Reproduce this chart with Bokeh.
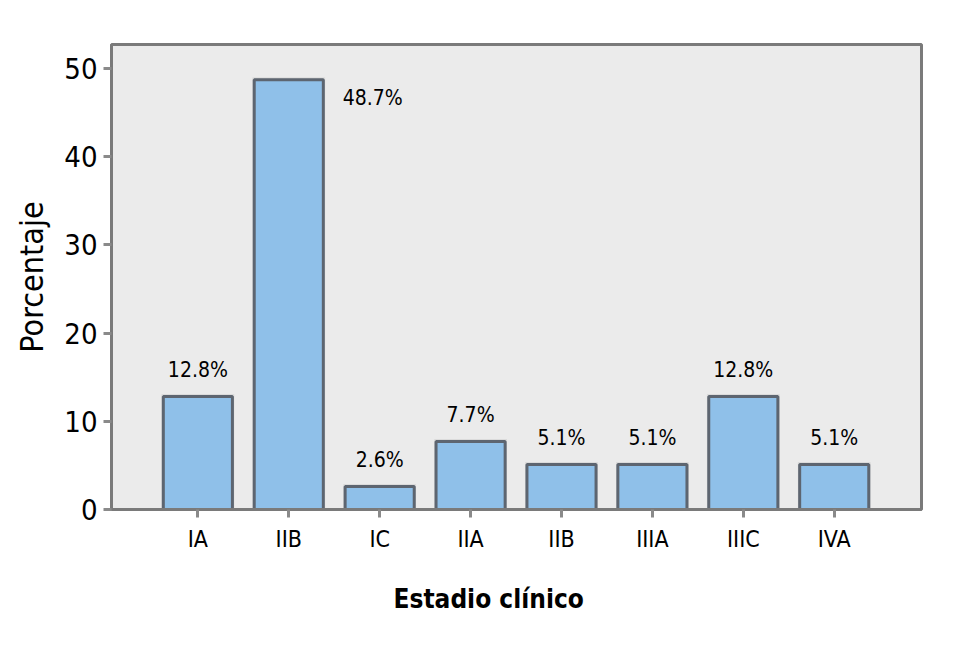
from bokeh.plotting import figure
from bokeh.models import ColumnDataSource, FixedTicker, Range1d, Title
from bokeh.core.properties import value
from bokeh.embed import file_html
from bokeh.resources import INLINE

stages = ["IA", "IIB", "IC", "IIA", "IIB", "IIIA", "IIIC", "IVA"]
percent = [12.8, 48.7, 2.6, 7.7, 5.1, 5.1, 12.8, 5.1]
labels = ["12.8%", "48.7%", "2.6%", "7.7%", "5.1%", "5.1%", "12.8%", "5.1%"]
y_ticks = [0, 10, 20, 30, 40, 50]

pos = list(range(1, len(stages) + 1))
FONT = "DejaVu Sans Condensed"

p = figure(width=946, height=644, output_backend="svg", toolbar_location=None,
           x_range=Range1d(0.05, 8.96), y_range=Range1d(0, 52.7),
           min_border_left=111, min_border_right=25, min_border_top=44, min_border_bottom=135)
p.background_fill_color = "#ebebeb"
p.border_fill_color = "white"
p.outline_line_color = "#7a7a7a"
p.outline_line_width = 3
p.xgrid.visible = False
p.ygrid.visible = False

src = ColumnDataSource(dict(x=pos, top=percent, lab=labels))
# soft shadow
p.vbar(x=pos, top=[v + 0.25 for v in percent], width=0.8, bottom=0, fill_color="#d6d6d6", line_color=None)
p.vbar(x="x", top="top", width=0.76, bottom=0, source=src, fill_color="#8fc0e9",
       line_color="#5d6570", line_width=3)

small = ColumnDataSource(dict(x=[x for x, v in zip(pos, percent) if v < 40],
                              y=[v for v in percent if v < 40],
                              lab=[l for l, v in zip(labels, percent) if v < 40]))
p.text(x="x", y="y", text="lab", source=small, text_align="center", text_baseline="bottom",
       y_offset=-15, text_font=value(FONT), text_font_size="21px", text_color="#000000")
big = ColumnDataSource(dict(x=[x for x, v in zip(pos, percent) if v >= 40],
                            y=[v for v in percent if v >= 40],
                            lab=[l for l, v in zip(labels, percent) if v >= 40]))
p.text(x="x", y="y", text="lab", source=big, text_align="left", text_baseline="middle",
       x_offset=54, y_offset=18, text_font=value(FONT), text_font_size="21px", text_color="#000000")

p.xaxis.ticker = FixedTicker(ticks=pos)
p.xaxis.major_label_overrides = {i: s for i, s in zip(pos, stages)}
p.yaxis.ticker = FixedTicker(ticks=y_ticks)

for ax in (p.xaxis, p.yaxis):
    ax.axis_line_color = "#7a7a7a"
    ax.axis_line_width = 3
    ax.major_tick_line_color = "#8a8a8a"
    ax.major_tick_line_width = 3
    ax.major_tick_in = 0
    ax.minor_tick_line_color = None
    ax.major_label_text_font = FONT
    ax.major_label_text_color = "#000000"
    ax.axis_label_text_font = FONT
    ax.axis_label_text_color = "#000000"
    ax.axis_label_text_font_style = "normal"

p.xaxis.major_tick_out = 8
p.yaxis.major_tick_out = 8
p.xaxis.major_label_text_font_size = "23px"
p.yaxis.major_label_text_font_size = "29px"
p.xaxis.major_label_standoff = 8
p.yaxis.major_label_standoff = 6
p.yaxis.axis_label = "Porcentaje"
p.yaxis.axis_label_text_font_size = "32px"
p.yaxis.axis_label_standoff = 10

xt = Title(text="Estadio clínico", align="left", offset=282, text_font=FONT,
           text_font_size="26px", text_font_style="bold", text_color="#000000",
           standoff=54)
p.add_layout(xt, "below")

open("out.html", "w").write(file_html(p, INLINE))
